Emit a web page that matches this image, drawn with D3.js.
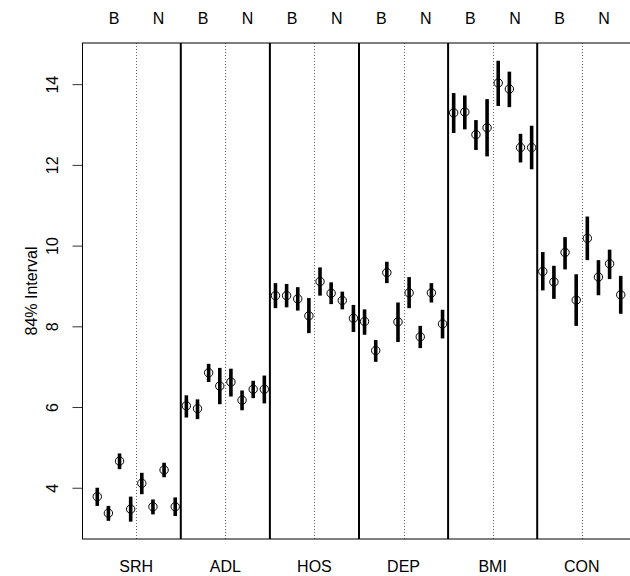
<!DOCTYPE html>
<html>
<head>
<meta charset="utf-8">
<script src="https://cdn.jsdelivr.net/npm/d3@7"></script>
<style>
  html, body { margin: 0; padding: 0; background: #fff; }
  svg { display: block; font-family: "Liberation Sans", Arial, Helvetica, sans-serif; }
</style>
</head>
<body>
<svg id="chart" width="630" height="576"></svg>
<script>
// Measures shown as panels, each split into B and N halves of four estimates
const groups = ["SRH", "ADL", "HOS", "DEP", "BMI", "CON"];
const halves = ["B", "N"];
const yTicks = [4, 6, 8, 10, 12, 14];
const yTitle = "84% Interval";

// Point estimates, eight per measure
const estimates = [
  [3.78, 3.37, 4.66, 3.47, 4.11, 3.53, 4.44, 3.53],
  [6.03, 5.96, 6.85, 6.52, 6.62, 6.17, 6.44, 6.44],
  [8.76, 8.76, 8.68, 8.26, 9.11, 8.82, 8.64, 8.20],
  [8.12, 7.40, 9.33, 8.11, 8.83, 7.74, 8.83, 8.06],
  [13.29, 13.31, 12.75, 12.92, 14.03, 13.88, 12.43, 12.43],
  [9.36, 9.10, 9.83, 8.65, 10.18, 9.22, 9.55, 8.78]
];
// Lower ends of the 84% intervals
const lower = [
  [3.55, 3.18, 4.46, 3.16, 3.84, 3.34, 4.26, 3.30],
  [5.74, 5.70, 6.62, 6.07, 6.26, 5.92, 6.22, 6.09],
  [8.45, 8.47, 8.39, 7.83, 8.76, 8.55, 8.42, 7.86],
  [7.79, 7.12, 9.07, 7.61, 8.45, 7.46, 8.59, 7.70],
  [12.79, 12.88, 12.37, 12.21, 13.46, 13.43, 12.06, 11.89],
  [8.89, 8.68, 9.41, 8.01, 9.64, 8.77, 9.17, 8.31]
];
// Upper ends of the 84% intervals
const upper = [
  [4.00, 3.55, 4.85, 3.78, 4.37, 3.71, 4.62, 3.76],
  [6.29, 6.19, 7.07, 6.97, 6.95, 6.41, 6.65, 6.78],
  [9.07, 9.05, 8.97, 8.70, 9.46, 9.09, 8.86, 8.53],
  [8.42, 7.66, 9.60, 8.59, 9.22, 8.01, 9.07, 8.41],
  [13.78, 13.72, 13.11, 13.63, 14.58, 14.31, 12.77, 12.97],
  [9.84, 9.50, 10.21, 9.29, 10.72, 9.64, 9.90, 9.25]
];

const perGroup = estimates[0].length;
const rows = [];
groups.forEach((g, gi) => {
  estimates[gi].forEach((v, j) => {
    rows.push({ group: g, pos: gi * perGroup + j + 1, est: v, lo: lower[gi][j], hi: upper[gi][j] });
  });
});

const svg = d3.select("#chart");
const plotLeft = 82, plotTop = 43, plotBottom = 539, plotRight = 636;
const fontSize = 16;

const x = d3.scaleLinear().domain([-0.37, rows.length + 1.37]).range([plotLeft, plotRight]);
const y = d3.scaleLinear().domain([2.73, 15.02]).range([plotBottom, plotTop]);

// Dotted dividers between the B and N halves of each panel
svg.append("g").selectAll("line")
  .data(groups)
  .join("line")
  .attr("x1", (d, i) => Math.round(x(i * perGroup + perGroup / 2 + 0.5)) + 0.5)
  .attr("x2", (d, i) => Math.round(x(i * perGroup + perGroup / 2 + 0.5)) + 0.5)
  .attr("y1", plotTop).attr("y2", plotBottom)
  .attr("stroke", "#666").attr("stroke-width", 1)
  .attr("stroke-dasharray", "1,2");

// Solid dividers between panels
svg.append("g").selectAll("line")
  .data(groups.slice(1))
  .join("line")
  .attr("x1", (d, i) => x((i + 1) * perGroup + 0.5))
  .attr("x2", (d, i) => x((i + 1) * perGroup + 0.5))
  .attr("y1", plotTop).attr("y2", plotBottom)
  .attr("stroke", "#000").attr("stroke-width", 2);

// Plot frame
svg.append("rect")
  .attr("x", plotLeft + 0.5).attr("y", plotTop)
  .attr("width", plotRight - plotLeft).attr("height", plotBottom - plotTop)
  .attr("fill", "none").attr("stroke", "#000").attr("stroke-width", 1);

// Interval bars
svg.append("g").selectAll("line")
  .data(rows)
  .join("line")
  .attr("x1", d => x(d.pos)).attr("x2", d => x(d.pos))
  .attr("y1", d => y(d.lo)).attr("y2", d => y(d.hi))
  .attr("stroke", "#000").attr("stroke-width", 3.6);

// Estimate markers
svg.append("g").selectAll("circle")
  .data(rows)
  .join("circle")
  .attr("cx", d => x(d.pos)).attr("cy", d => y(d.est))
  .attr("r", 4.2)
  .attr("fill", "none").attr("stroke", "#000").attr("stroke-width", 1);

// Left axis with rotated tick labels
const yAxis = svg.append("g")
  .attr("transform", `translate(${plotLeft},0)`)
  .call(d3.axisLeft(y).tickValues(yTicks).tickSize(9.5).tickSizeOuter(0).tickFormat(d3.format("d")));
yAxis.select(".domain").remove();
yAxis.selectAll(".tick line").attr("stroke", "#333");
yAxis.selectAll(".tick text")
  .attr("font-size", fontSize).attr("fill", "#000")
  .attr("x", null).attr("dy", null)
  .attr("text-anchor", "middle")
  .attr("transform", "translate(-24,0) rotate(-90)");

svg.append("text")
  .attr("transform", `translate(37,${(plotTop + plotBottom) / 2}) rotate(-90)`)
  .attr("text-anchor", "middle")
  .attr("font-size", fontSize)
  .text(yTitle);

// Half labels above each panel
const halfLabels = [];
groups.forEach((g, gi) => halves.forEach((h, hi) => halfLabels.push({ label: h, pos: gi * perGroup + hi * perGroup / 2 + (perGroup / 2 + 1) / 2 })));
svg.append("g").selectAll("text")
  .data(halfLabels)
  .join("text")
  .attr("x", d => x(d.pos)).attr("y", 24)
  .attr("text-anchor", "middle").attr("font-size", fontSize)
  .text(d => d.label);

// Measure names under each panel
svg.append("g").selectAll("text")
  .data(groups)
  .join("text")
  .attr("x", (d, i) => x(i * perGroup + perGroup / 2 + 0.5)).attr("y", 572)
  .attr("text-anchor", "middle").attr("font-size", fontSize)
  .text(d => d);
</script>
</body>
</html>
